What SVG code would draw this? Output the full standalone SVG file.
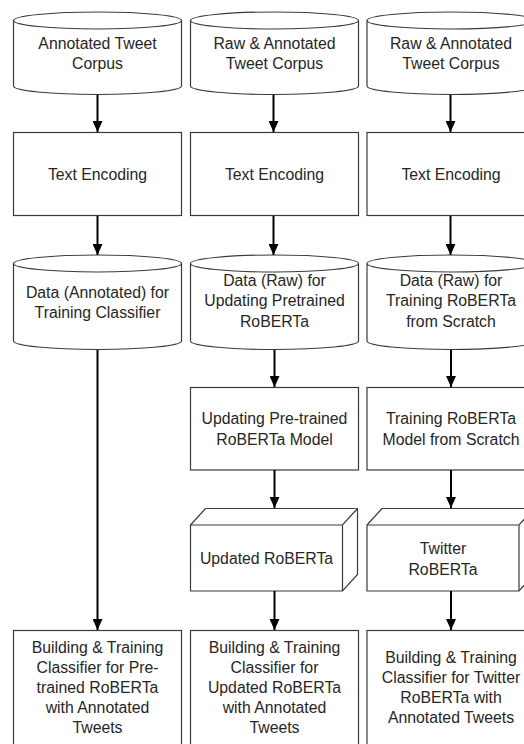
<svg xmlns="http://www.w3.org/2000/svg" width="524" height="744" viewBox="0 0 524 744">
<style>
.s{fill:#fff;stroke:#3a3a3a;stroke-width:1.2}
.t{font-family:"Liberation Sans",Arial,sans-serif;font-size:15.8px;fill:#262626;text-anchor:middle}
.c{stroke:#000;stroke-width:2;fill:none}
</style>
<defs>
<marker id="ah" markerWidth="11" markerHeight="10" refX="11" refY="5" orient="auto" markerUnits="userSpaceOnUse">
<path d="M0,0 L11,5 L0,10 Z" fill="#000"/>
</marker>
</defs>
<rect width="524" height="744" fill="#fff"/>

<!-- Row 1: corpora -->
<g id="corpus1">
<path class="s" d="M13.5,20.5 V86 A84,8.5 0 0 0 181.5,86 V20.5 A84,8.5 0 0 0 13.5,20.5 A84,8.5 0 0 0 181.5,20.5"/>
<text class="t" x="97.5" y="48.5">Annotated Tweet</text>
<text class="t" x="97.5" y="69">Corpus</text>
</g>
<g id="corpus2">
<path class="s" d="M190.5,20.5 V86 A84,8.5 0 0 0 358.5,86 V20.5 A84,8.5 0 0 0 190.5,20.5 A84,8.5 0 0 0 358.5,20.5"/>
<text class="t" x="274.5" y="48.5">Raw &amp; Annotated</text>
<text class="t" x="274.5" y="69">Tweet Corpus</text>
</g>
<g id="corpus3">
<path class="s" d="M367,20.5 V86 A84,8.5 0 0 0 535,86 V20.5 A84,8.5 0 0 0 367,20.5 A84,8.5 0 0 0 535,20.5"/>
<text class="t" x="451" y="48.5">Raw &amp; Annotated</text>
<text class="t" x="451" y="69">Tweet Corpus</text>
</g>

<!-- Row 2: text encoding -->
<g id="enc1"><rect class="s" x="13.5" y="132.5" width="168" height="83"/><text class="t" x="97.5" y="180">Text Encoding</text></g>
<g id="enc2"><rect class="s" x="190.5" y="132.5" width="168" height="83"/><text class="t" x="274.5" y="180">Text Encoding</text></g>
<g id="enc3"><rect class="s" x="367" y="132.5" width="168" height="83"/><text class="t" x="451" y="180">Text Encoding</text></g>

<!-- Row 3: data cylinders -->
<g id="data1">
<path class="s" d="M13.5,263.5 V341 A84,8.5 0 0 0 181.5,341 V263.5 A84,8.5 0 0 0 13.5,263.5 A84,8.5 0 0 0 181.5,263.5"/>
<text class="t" x="97.5" y="297.5">Data (Annotated) for</text>
<text class="t" x="97.5" y="318">Training Classifier</text>
</g>
<g id="data2">
<path class="s" d="M190.5,263.5 V341 A84,8.5 0 0 0 358.5,341 V263.5 A84,8.5 0 0 0 190.5,263.5 A84,8.5 0 0 0 358.5,263.5"/>
<text class="t" x="274.5" y="285.5">Data (Raw) for</text>
<text class="t" x="274.5" y="306">Updating Pretrained</text>
<text class="t" x="274.5" y="326.5">RoBERTa</text>
</g>
<g id="data3">
<path class="s" d="M367,263.5 V341 A84,8.5 0 0 0 535,341 V263.5 A84,8.5 0 0 0 367,263.5 A84,8.5 0 0 0 535,263.5"/>
<text class="t" x="451" y="285.5">Data (Raw) for</text>
<text class="t" x="451" y="306">Training RoBERTa</text>
<text class="t" x="451" y="326.5">from Scratch</text>
</g>

<!-- Row 4: model training -->
<g id="update2"><rect class="s" x="190.5" y="387.5" width="168" height="82.5"/>
<text class="t" x="274.5" y="424.3">Updating Pre-trained</text>
<text class="t" x="274.5" y="444.8">RoBERTa Model</text></g>
<g id="train3"><rect class="s" x="367" y="387.5" width="168" height="82.5"/>
<text class="t" x="451" y="424.3">Training RoBERTa</text>
<text class="t" x="451" y="444.8">Model from Scratch</text></g>

<!-- Row 5: 3D model boxes -->
<g id="model2">
<path class="s" d="M190.5,525 L205.5,508.5 L357.5,508.5 L357.5,574.5 L342.5,591 L190.5,591 Z"/>
<path class="s" fill="none" d="M190.5,525 H342.5 L357.5,508.5 M342.5,525 V591"/>
<text class="t" x="266.5" y="564">Updated RoBERTa</text>
</g>
<g id="model3">
<path class="s" d="M367,525 L382,508.5 L534,508.5 L534,574.5 L519,591 L367,591 Z"/>
<path class="s" fill="none" d="M367,525 H519 L534,508.5 M519,525 V591"/>
<text class="t" x="443" y="553.5">Twitter</text>
<text class="t" x="443" y="574.5">RoBERTa</text>
</g>

<!-- Row 6: classifiers -->
<g id="clf1"><rect class="s" x="13.5" y="630.5" width="168" height="130"/>
<text class="t" x="97.5" y="652.5">Building &amp; Training</text>
<text class="t" x="97.5" y="672.5">Classifier for Pre-</text>
<text class="t" x="97.5" y="692.5">trained RoBERTa</text>
<text class="t" x="97.5" y="712.5">with Annotated</text>
<text class="t" x="97.5" y="732.5">Tweets</text></g>
<g id="clf2"><rect class="s" x="190.5" y="630.5" width="168" height="130"/>
<text class="t" x="274.5" y="652.5">Building &amp; Training</text>
<text class="t" x="274.5" y="672.5">Classifier for</text>
<text class="t" x="274.5" y="692.5">Updated RoBERTa</text>
<text class="t" x="274.5" y="712.5">with Annotated</text>
<text class="t" x="274.5" y="732.5">Tweets</text></g>
<g id="clf3"><rect class="s" x="367" y="630.5" width="168" height="130"/>
<text class="t" x="451" y="662.5">Building &amp; Training</text>
<text class="t" x="451" y="682.5">Classifier for Twitter</text>
<text class="t" x="451" y="702.5">RoBERTa with</text>
<text class="t" x="451" y="722.5">Annotated Tweets</text></g>

<g id="connectors">
<line class="c" x1="97.5" y1="95" x2="97.5" y2="132" marker-end="url(#ah)"/>
<line class="c" x1="273.5" y1="95" x2="273.5" y2="132" marker-end="url(#ah)"/>
<line class="c" x1="450.5" y1="95" x2="450.5" y2="132" marker-end="url(#ah)"/>
<line class="c" x1="97.5" y1="216" x2="97.5" y2="255" marker-end="url(#ah)"/>
<line class="c" x1="273.5" y1="216" x2="273.5" y2="255" marker-end="url(#ah)"/>
<line class="c" x1="450.5" y1="216" x2="450.5" y2="255" marker-end="url(#ah)"/>
<line class="c" x1="97.5" y1="350" x2="97.5" y2="630" marker-end="url(#ah)"/>
<line class="c" x1="274.5" y1="350" x2="274.5" y2="387" marker-end="url(#ah)"/>
<line class="c" x1="451" y1="350" x2="451" y2="387" marker-end="url(#ah)"/>
<line class="c" x1="274.5" y1="470" x2="274.5" y2="508" marker-end="url(#ah)"/>
<line class="c" x1="451" y1="470" x2="451" y2="508" marker-end="url(#ah)"/>
<line class="c" x1="274.5" y1="591" x2="274.5" y2="630" marker-end="url(#ah)"/>
<line class="c" x1="451" y1="591" x2="451" y2="630" marker-end="url(#ah)"/>
</g>
</svg>
